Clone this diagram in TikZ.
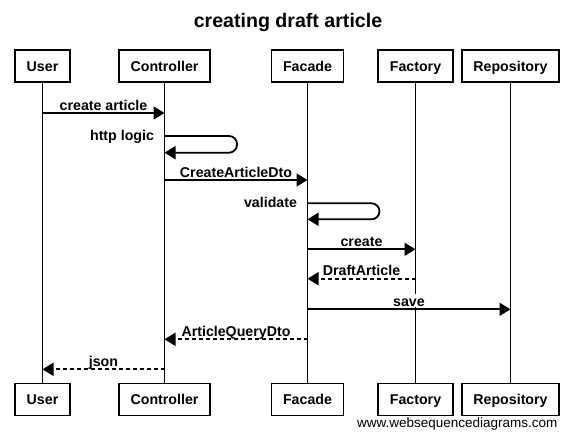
\documentclass[tikz,border=0pt]{standalone}
\usepackage{fontspec}
\setmainfont{Liberation Sans}
\usetikzlibrary{arrows.meta}

\tikzset{
  actor/.style={draw, line width=1.8pt, fill=white, minimum height=32pt, inner xsep=11.5pt,
    text height=10.2pt, text depth=0pt, font=\bfseries\fontsize{14.2}{17}\selectfont},
  life/.style={line width=1.8pt},
  msg/.style={line width=1.8pt, -{Triangle[length=11pt,width=13pt]}},
  reply/.style={msg, dash pattern=on 4pt off 3pt},
  lbl/.style={fill=white, inner sep=1pt, text height=11pt, text depth=0pt, anchor=south, yshift=1pt,
    font=\bfseries\fontsize{14.2}{17}\selectfont},
  selflbl/.style={anchor=base east, xshift=-7pt, yshift=-4pt, font=\bfseries\fontsize{14.2}{17}\selectfont}
}

\begin{document}
\begin{tikzpicture}[x=1pt, y=-1pt]
        \useasboundingbox (0,0) rectangle (573,439);

        \node[font=\bfseries\fontsize{19.6}{23}\selectfont] at (288,22) (title) {creating draft article};

        % participants, top and bottom
        \node[actor] at (42.5,66) (UserT) {User};
        \node[actor] at (164.5,66) (CtrlT) {Controller};
        \node[actor] at (307.5,66) (FacadeT) {Facade};
        \node[actor] at (415.5,66) (FactoryT) {Factory};
        \node[actor] at (510.5,66) (RepoT) {Repository};
        \node[actor] at (42.5,399.5) (UserB) {User};
        \node[actor] at (164.5,399.5) (CtrlB) {Controller};
        \node[actor] at (307.5,399.5) (FacadeB) {Facade};
        \node[actor] at (415.5,399.5) (FactoryB) {Factory};
        \node[actor] at (510.5,399.5) (RepoB) {Repository};

        \foreach \p in {User,Ctrl,Facade,Factory,Repo}
            \draw[life] (\p T) -- (\p B);

        % message rows
        \coordinate (m1) at (0,113);
        \coordinate (s1) at (0,136);
        \coordinate (m2) at (0,180);
        \coordinate (s2) at (0,203.3);
        \coordinate (m3) at (0,249.3);
        \coordinate (m4) at (0,278.7);
        \coordinate (m5) at (0,309.3);
        \coordinate (m6) at (0,339.3);
        \coordinate (m7) at (0,369.3);

        \draw[msg] (UserT |- m1) -- node[lbl] (lCreateArticle) {create article} (CtrlT |- m1);
        \draw[msg, rounded corners=8pt] (CtrlT |- s1) -- ++(72.5,0) -- ++(0,16.7) -- ++(-72.5,0);
        \node[selflbl] at (CtrlT |- s1) (lHttp) {http logic};
        \draw[msg] (CtrlT |- m2) -- node[lbl] (lDto) {CreateArticleDto} (FacadeT |- m2);
        \draw[msg, rounded corners=8pt] (FacadeT |- s2) -- ++(72,0) -- ++(0,16) -- ++(-72,0);
        \node[selflbl] at (FacadeT |- s2) (lValidate) {validate};
        \draw[msg] (FacadeT |- m3) -- node[lbl] (lCreate) {create} (FactoryT |- m3);
        \draw[reply] (FactoryT |- m4) -- node[lbl] (lDraft) {DraftArticle} (FacadeT |- m4);
        \draw[msg] (FacadeT |- m5) -- node[lbl] (lSave) {save} (RepoT |- m5);
        \draw[reply] (FacadeT |- m6) -- node[lbl] (lQuery) {ArticleQueryDto} (CtrlT |- m6);
        \draw[reply] (CtrlT |- m7) -- node[lbl] (lJson) {json} (UserT |- m7);

        \node[anchor=east, font=\fontsize{13.5}{16}\selectfont] at (561,424) (wsd) {www.websequencediagrams.com};
\end{tikzpicture}
\end{document}
